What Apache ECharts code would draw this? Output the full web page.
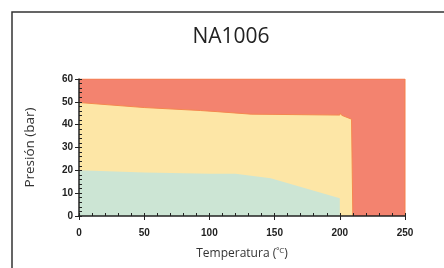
<!DOCTYPE html>
<html>
<head>
<meta charset="utf-8">
<script src="https://cdn.jsdelivr.net/npm/echarts@6/dist/echarts.min.js"></script>
<style>
  html, body { margin: 0; padding: 0; background: #fff; }
  #chart { width: 444px; height: 268px; }
</style>
</head>
<body>
<div id="chart"></div>
<script>
// zona roja (fondo)
var redT = [0, 250, 250];
var redP = [60, 60, 0];
// zona amarilla
var yellowT = [0, 50, 93, 106, 132, 200, 200.3, 201.5, 209, 210, 210];
var yellowP = [49.7, 47.5, 46.2, 45.7, 44.6, 44.2, 45.1, 44.1, 42.4, 42.3, 0];
// zona verde
var greenT = [0, 50, 100, 120, 147, 200, 200];
var greenP = [20, 19, 18.5, 18.5, 16.5, 7.8, 0];

var xTicks = [0, 50, 100, 150, 200, 250];
var yTicks = [0, 10, 20, 30, 40, 50, 60];

function pairs(xs, ys) {
  return xs.map(function (x, i) { return [x, ys[i]]; });
}

var myChart = echarts.init(document.getElementById('chart'));
var labelStyle = { color: '#222', fontFamily: 'Liberation Sans', fontWeight: 'bold', fontSize: 10 };

var option = {
  animation: false,
  title: {
    text: 'NA1006',
    left: 226,
    top: 22,
    textAlign: 'center',
    textStyle: { fontFamily: 'Open Sans', fontWeight: 'normal', fontSize: 21, color: '#222' }
  },
  graphic: [{
    type: 'rect',
    shape: { x: 12, y: 12, width: 460, height: 300 },
    style: { fill: 'none', stroke: '#333', lineWidth: 1.5 },
    silent: true
  }],
  grid: { left: 79, right: 39, top: 79, bottom: 52 },
  xAxis: [{
    type: 'value',
    z: 10,
    min: xTicks[0], max: xTicks[xTicks.length - 1], interval: 50,
    name: 'Temperatura ({s|ºC})',
    nameLocation: 'middle',
    nameGap: 31,
    nameTextStyle: {
      fontFamily: 'Open Sans', fontSize: 12, color: '#333',
      rich: { s: { fontFamily: 'Open Sans', fontSize: 8, color: '#333', verticalAlign: 'top', padding: [0, 0, 5, 0] } }
    },
    axisLine: { lineStyle: { color: '#222', width: 1.5 } },
    axisTick: { length: 4, lineStyle: { color: '#222' } },
    axisLabel: Object.assign({ margin: 12 }, labelStyle),
    splitLine: { show: false }
  }, {
    type: 'value',
    z: 10,
    position: 'bottom',
    min: xTicks[0], max: xTicks[xTicks.length - 1], interval: 50,
    axisLine: { show: false },
    axisTick: { show: true, inside: true, length: 3, lineStyle: { color: '#222' } },
    minorTick: { show: true, splitNumber: 5, length: 3, lineStyle: { color: '#222' } },
    axisLabel: { show: false },
    splitLine: { show: false }
  }],
  yAxis: [{
    type: 'value',
    z: 10,
    min: yTicks[0], max: yTicks[yTicks.length - 1], interval: 10,
    name: 'Presión (bar)',
    nameLocation: 'middle',
    nameGap: 42,
    nameTextStyle: { fontFamily: 'Open Sans', fontSize: 13.5, color: '#333' },
    axisLine: { show: true, lineStyle: { color: '#222', width: 1.5 } },
    axisTick: { show: true, length: 4, lineStyle: { color: '#222' } },
    axisLabel: Object.assign({ margin: 6 }, labelStyle),
    splitLine: { show: false }
  }, {
    type: 'value',
    z: 10,
    position: 'left',
    min: yTicks[0], max: yTicks[yTicks.length - 1], interval: 10,
    axisLine: { show: false },
    axisTick: { show: true, inside: true, length: 3, lineStyle: { color: '#222' } },
    minorTick: { show: true, splitNumber: 5, length: 3, lineStyle: { color: '#222' } },
    axisLabel: { show: false },
    splitLine: { show: false }
  }],
  series: [
    {
      type: 'line', data: pairs(redT, redP), showSymbol: false, z: 1,
      lineStyle: { color: '#F5804C', width: 1 },
      areaStyle: { color: '#F3836F', opacity: 1 }
    },
    {
      type: 'line', data: pairs(yellowT, yellowP), showSymbol: false, z: 2,
      lineStyle: { color: '#F5874F', width: 1 },
      areaStyle: { color: '#FDE6A6', opacity: 1 }
    },
    {
      type: 'line', data: pairs(greenT, greenP), showSymbol: false, z: 3,
      lineStyle: { width: 0 },
      areaStyle: { color: '#CCE5D4', opacity: 1 }
    }
  ]
};

myChart.setOption(option);
window.addEventListener('resize', function () { myChart.resize(); });
</script>
</body>
</html>
